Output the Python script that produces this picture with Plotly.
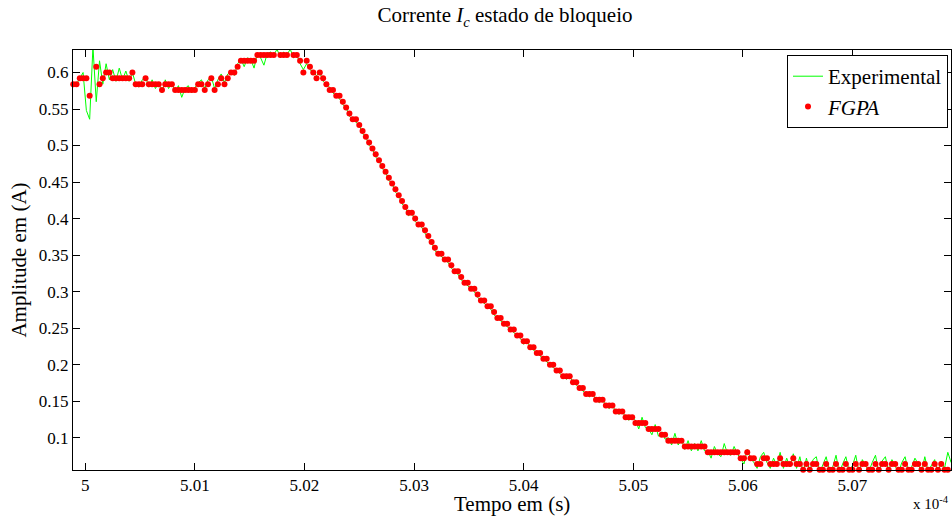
import numpy as np
import plotly.graph_objects as go

# Time base (units of 1e-4 s): first sample and sampling period
T0 = 4.9989
DT = 0.0003

# FPGA output (A), one value per sample
fpga = [
    0.584, 0.584, 0.592, 0.592, 0.592, 0.568, 0.632, 0.608, 0.584, 0.592,
    0.600, 0.600, 0.592, 0.592, 0.592, 0.592, 0.592, 0.592, 0.600, 0.584,
    0.584, 0.584, 0.592, 0.584, 0.584, 0.584, 0.584, 0.576, 0.584, 0.584,
    0.584, 0.576, 0.576, 0.576, 0.576, 0.576, 0.576, 0.576, 0.584, 0.584,
    0.576, 0.584, 0.592, 0.576, 0.584, 0.592, 0.584, 0.592, 0.600, 0.600,
    0.608, 0.616, 0.616, 0.616, 0.616, 0.616, 0.624, 0.624, 0.624, 0.624,
    0.624, 0.624, 0.632, 0.624, 0.624, 0.624, 0.632, 0.624, 0.624, 0.616,
    0.600, 0.616, 0.608, 0.600, 0.592, 0.600, 0.592, 0.584, 0.576, 0.576,
    0.568, 0.568, 0.560, 0.552, 0.544, 0.536, 0.536, 0.528, 0.520, 0.512,
    0.504, 0.496, 0.488, 0.480, 0.472, 0.464, 0.456, 0.448, 0.440, 0.432,
    0.424, 0.416, 0.408, 0.408, 0.400, 0.392, 0.392, 0.384, 0.376, 0.368,
    0.360, 0.352, 0.352, 0.344, 0.344, 0.336, 0.328, 0.328, 0.320, 0.312,
    0.312, 0.304, 0.304, 0.296, 0.288, 0.288, 0.280, 0.280, 0.272, 0.264,
    0.264, 0.256, 0.256, 0.248, 0.248, 0.240, 0.240, 0.232, 0.232, 0.224,
    0.224, 0.216, 0.216, 0.208, 0.208, 0.200, 0.200, 0.192, 0.192, 0.184,
    0.184, 0.184, 0.176, 0.176, 0.168, 0.168, 0.160, 0.160, 0.160, 0.152,
    0.152, 0.152, 0.144, 0.144, 0.144, 0.136, 0.136, 0.136, 0.128, 0.128,
    0.128, 0.120, 0.120, 0.120, 0.120, 0.112, 0.112, 0.112, 0.112, 0.104,
    0.104, 0.096, 0.096, 0.096, 0.096, 0.096, 0.088, 0.088, 0.088, 0.088,
    0.088, 0.088, 0.088, 0.080, 0.080, 0.080, 0.080, 0.080, 0.080, 0.080,
    0.080, 0.080, 0.080, 0.072, 0.072, 0.080, 0.072, 0.072, 0.064, 0.064,
    0.072, 0.072, 0.064, 0.064, 0.064, 0.072, 0.064, 0.064, 0.064, 0.072,
    0.064, 0.064, 0.056, 0.064, 0.056, 0.064, 0.064, 0.056, 0.056, 0.064,
    0.056, 0.056, 0.064, 0.056, 0.056, 0.064, 0.056, 0.056, 0.064, 0.056,
    0.064, 0.064, 0.056, 0.056, 0.064, 0.056, 0.064, 0.064, 0.056, 0.064,
    0.064, 0.056, 0.056, 0.064, 0.056, 0.056, 0.064, 0.064, 0.056, 0.064,
    0.056, 0.056, 0.064, 0.056, 0.064, 0.056, 0.056, 0.064,
]

# Experimental measurement (A), one value per sample
experimental = [
    0.584, 0.584, 0.592, 0.600, 0.548, 0.536, 0.635, 0.560, 0.616, 0.584,
    0.612, 0.590, 0.604, 0.588, 0.606, 0.590, 0.602, 0.588, 0.600, 0.584,
    0.580, 0.590, 0.594, 0.580, 0.590, 0.578, 0.586, 0.572, 0.590, 0.578,
    0.586, 0.574, 0.582, 0.566, 0.578, 0.582, 0.572, 0.580, 0.586, 0.590,
    0.578, 0.590, 0.594, 0.578, 0.590, 0.598, 0.586, 0.598, 0.602, 0.596,
    0.612, 0.618, 0.608, 0.620, 0.618, 0.606, 0.626, 0.620, 0.610, 0.626,
    0.628, 0.624, 0.632, 0.620, 0.628, 0.624, 0.632, 0.620, 0.624, 0.612,
    0.604, 0.612, 0.604, 0.600, 0.596, 0.600, 0.588, 0.584, 0.580, 0.572,
    0.568, 0.564, 0.556, 0.552, 0.540, 0.536, 0.532, 0.528, 0.516, 0.512,
    0.500, 0.496, 0.484, 0.480, 0.468, 0.464, 0.452, 0.448, 0.436, 0.432,
    0.420, 0.416, 0.404, 0.408, 0.396, 0.392, 0.388, 0.380, 0.372, 0.368,
    0.356, 0.352, 0.348, 0.344, 0.340, 0.332, 0.328, 0.324, 0.316, 0.312,
    0.308, 0.304, 0.300, 0.292, 0.288, 0.284, 0.280, 0.276, 0.268, 0.264,
    0.260, 0.256, 0.252, 0.248, 0.244, 0.240, 0.236, 0.228, 0.232, 0.224,
    0.220, 0.216, 0.212, 0.208, 0.204, 0.200, 0.196, 0.192, 0.188, 0.184,
    0.180, 0.184, 0.176, 0.172, 0.168, 0.164, 0.160, 0.156, 0.160, 0.152,
    0.148, 0.152, 0.144, 0.140, 0.144, 0.136, 0.132, 0.136, 0.128, 0.124,
    0.128, 0.124, 0.112, 0.128, 0.114, 0.112, 0.104, 0.118, 0.102, 0.108,
    0.098, 0.100, 0.090, 0.106, 0.090, 0.098, 0.084, 0.096, 0.082, 0.092,
    0.082, 0.096, 0.082, 0.082, 0.072, 0.088, 0.078, 0.074, 0.092, 0.078,
    0.076, 0.088, 0.078, 0.070, 0.064, 0.084, 0.072, 0.066, 0.058, 0.074,
    0.080, 0.066, 0.058, 0.072, 0.062, 0.080, 0.058, 0.072, 0.060, 0.078,
    0.058, 0.074, 0.052, 0.072, 0.054, 0.070, 0.074, 0.052, 0.062, 0.074,
    0.054, 0.060, 0.076, 0.052, 0.064, 0.074, 0.054, 0.062, 0.076, 0.052,
    0.070, 0.062, 0.054, 0.066, 0.076, 0.052, 0.068, 0.074, 0.054, 0.070,
    0.062, 0.052, 0.066, 0.074, 0.054, 0.060, 0.072, 0.064, 0.052, 0.074,
    0.054, 0.062, 0.070, 0.052, 0.068, 0.058, 0.080, 0.066,
]

x_tickvals = [5.00, 5.01, 5.02, 5.03, 5.04, 5.05, 5.06, 5.07]
x_ticktext = ["5", "5.01", "5.02", "5.03", "5.04", "5.05", "5.06", "5.07"]
y_tickvals = [0.1, 0.15, 0.2, 0.25, 0.3, 0.35, 0.4, 0.45, 0.5, 0.55, 0.6]
y_ticktext = ["0.1", "0.15", "0.2", "0.25", "0.3", "0.35", "0.4", "0.45", "0.5", "0.55", "0.6"]

t_exp = T0 + DT * np.arange(len(experimental))
t_fpga = T0 + DT * np.arange(len(fpga))

FONT = "Liberation Serif, Times New Roman, serif"

fig = go.Figure()
fig.add_trace(go.Scatter(
    x=t_exp, y=experimental, mode="lines", name="Experimental",
    line=dict(color="#00ff00", width=1),
))
fig.add_trace(go.Scatter(
    x=t_fpga, y=fpga, mode="markers", name="<i>FGPA</i>",
    marker=dict(color="#ff0000", size=6, line=dict(width=0)),
    cliponaxis=False,
))

axis_common = dict(
    showgrid=False, zeroline=False, showline=True, linecolor="black",
    linewidth=1, mirror="ticks", ticks="inside", ticklen=7, tickcolor="black",
    tickfont=dict(family=FONT, size=17, color="black"),
)

fig.update_layout(
    width=952, height=517,
    margin=dict(l=73, r=1, t=50, b=47),
    paper_bgcolor="white", plot_bgcolor="white",
    font=dict(family=FONT, color="black"),
    title=dict(
        text="Corrente <i>I</i><sub><i>c</i></sub> estado de bloqueio",
        x=505 / 952, xref="container", xanchor="center",
        y=1 - 15 / 517, yref="container", yanchor="middle",
        font=dict(family=FONT, size=21, color="black"),
    ),
    xaxis=dict(
        range=[4.99888, 5.07899], tickvals=x_tickvals, ticktext=x_ticktext,
        **axis_common,
    ),
    yaxis=dict(
        range=[0.0558, 0.6308], tickvals=y_tickvals, ticktext=y_ticktext,
        title=dict(text="Amplitude em (A)", font=dict(family=FONT, size=21), standoff=6),
        **axis_common,
    ),
    legend=dict(
        x=0.9966, y=0.988, xanchor="right", yanchor="top",
        bgcolor="white", bordercolor="black", borderwidth=1,
        font=dict(family=FONT, size=21, color="black"),
        tracegroupgap=0,
    ),
    annotations=[
        dict(
            text="Tempo em (s)", xref="paper", yref="paper",
            x=0.5, y=0, yshift=-34, xanchor="center", yanchor="middle", showarrow=False,
            font=dict(family=FONT, size=21, color="black"),
        ),
        dict(
            text="x 10<sup>-4</sup>", xref="paper", yref="paper",
            x=1.0, y=0, yshift=-44, xanchor="right", yanchor="bottom", showarrow=False,
            font=dict(family=FONT, size=15, color="black"),
        ),
    ],
)

fig.write_html("out.html", config={"displayModeBar": False},
               post_script="document.body.style.margin='0';")
